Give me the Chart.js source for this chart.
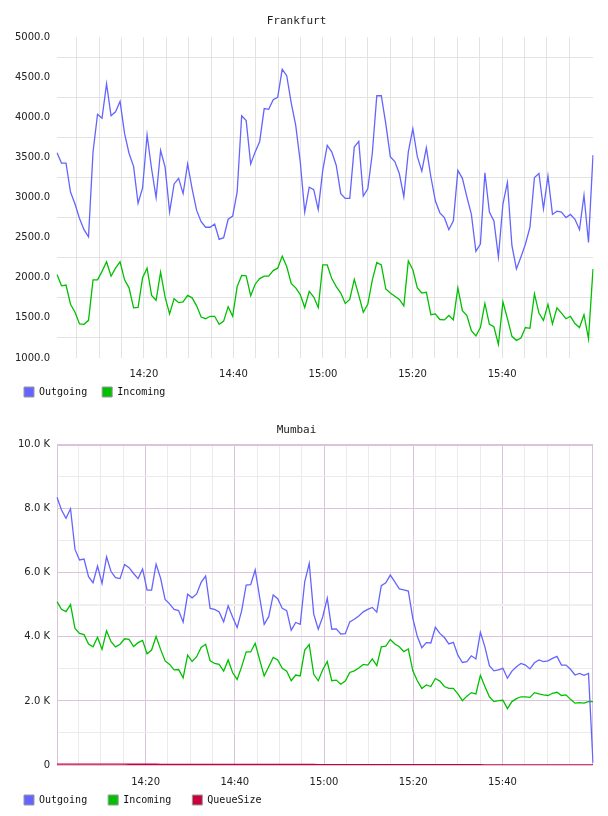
<!DOCTYPE html>
<html><head><meta charset="utf-8">
<script src="https://cdn.jsdelivr.net/npm/chart.js@4/dist/chart.umd.min.js"></script>
<style>
html,body{margin:0;padding:0;background:#fff;overflow:hidden;}
.wrap{position:absolute;left:0;width:608px;}
</style></head><body>
<div class="wrap" style="top:410px;height:420px"><canvas id="c2" width="608" height="420"></canvas></div>
<div class="wrap" style="top:0;height:417px"><canvas id="c1" width="608" height="417"></canvas></div>
<script>
// ---- data ----
const times = [
'14:00','14:01','14:02','14:03','14:04','14:05','14:06','14:07','14:08','14:09',
'14:10','14:11','14:12','14:13','14:14','14:15','14:16','14:17','14:18','14:19',
'14:20','14:21','14:22','14:23','14:24','14:25','14:26','14:27','14:28','14:29',
'14:30','14:31','14:32','14:33','14:34','14:35','14:36','14:37','14:38','14:39',
'14:40','14:41','14:42','14:43','14:44','14:45','14:46','14:47','14:48','14:49',
'14:50','14:51','14:52','14:53','14:54','14:55','14:56','14:57','14:58','14:59',
'15:00','15:01','15:02','15:03','15:04','15:05','15:06','15:07','15:08','15:09',
'15:10','15:11','15:12','15:13','15:14','15:15','15:16','15:17','15:18','15:19',
'15:20','15:21','15:22','15:23','15:24','15:25','15:26','15:27','15:28','15:29',
'15:30','15:31','15:32','15:33','15:34','15:35','15:36','15:37','15:38','15:39',
'15:40','15:41','15:42','15:43','15:44','15:45','15:46','15:47','15:48','15:49',
'15:50','15:51','15:52','15:53','15:54','15:55','15:56','15:57','15:58','15:59'];

const frankfurtOutgoing = [
3560,3430,3430,3070,2920,2740,2600,2510,3570,4040,
3990,4420,4020,4070,4200,3800,3550,3390,2930,3120,
3780,3360,3000,3590,3380,2820,3170,3240,3050,3420,
3110,2840,2700,2630,2630,2670,2480,2500,2730,2770,
3070,4020,3960,3420,3570,3700,4110,4100,4220,4250,
4600,4520,4180,3900,3450,2820,3130,3100,2850,3340,
3650,3570,3400,3050,2990,2990,3630,3700,3020,3110,
3550,4270,4270,3920,3510,3450,3300,3010,3570,3860,
3510,3330,3620,3260,2960,2810,2750,2600,2710,3340,
3240,3010,2790,2330,2420,3310,2820,2710,2260,2920,
3190,2400,2110,2260,2420,2630,3250,3300,2860,3270,
2790,2830,2820,2750,2790,2730,2600,3030,2440,3530];

const frankfurtIncoming = [
2040,1900,1910,1670,1570,1425,1420,1470,1975,1975,
2080,2200,2020,2120,2200,1975,1875,1625,1630,2000,
2120,1780,1720,2070,1760,1550,1740,1690,1700,1780,
1750,1650,1510,1490,1520,1520,1420,1460,1640,1520,
1890,2030,2025,1775,1920,1990,2020,2020,2090,2120,
2270,2140,1930,1875,1790,1630,1830,1760,1630,2160,
2160,1990,1890,1810,1680,1730,1980,1780,1570,1670,
1970,2190,2160,1860,1810,1770,1730,1650,2210,2100,
1875,1810,1820,1540,1550,1480,1475,1530,1475,1875,
1590,1530,1340,1275,1380,1680,1420,1390,1170,1700,
1490,1270,1220,1250,1380,1370,1800,1560,1470,1670,
1425,1625,1560,1490,1520,1430,1380,1540,1240,2110];

const mumbaiOutgoing = [
8360,7960,7700,8000,6730,6400,6430,5880,5690,6210,
5670,6500,6040,5850,5820,6260,6160,5980,5820,6120,
5460,5460,6270,5830,5170,5030,4860,4820,4460,5330,
5220,5340,5700,5900,4890,4860,4780,4470,4970,4610,
4290,4820,5620,5630,6090,5230,4390,4630,5310,5190,
4890,4820,4210,4450,4390,5720,6290,4710,4240,4630,
5210,4240,4250,4090,4100,4470,4550,4650,4780,4860,
4920,4770,5600,5690,5930,5720,5500,5470,5430,4580,
4010,3660,3820,3810,4300,4110,3980,3780,3830,3430,
3200,3230,3410,3310,4140,3690,3100,2940,2970,3020,
2710,2930,3070,3170,3120,3000,3190,3280,3230,3250,
3330,3390,3120,3120,2990,2810,2860,2800,2860,70];

const mumbaiIncoming = [
5100,4860,4790,5010,4260,4110,4070,3780,3690,3990,
3610,4190,3850,3690,3770,3940,3920,3700,3820,3890,
3470,3590,4010,3610,3250,3140,2970,2980,2720,3430,
3230,3380,3670,3770,3250,3170,3140,2930,3280,2880,
2670,3070,3530,3530,3800,3280,2780,3070,3360,3280,
3020,2930,2630,2810,2780,3590,3760,2830,2630,2970,
3230,2630,2650,2520,2620,2890,2940,3030,3140,3120,
3310,3100,3690,3710,3920,3780,3690,3540,3620,2940,
2630,2390,2500,2450,2700,2620,2450,2390,2390,2220,
2010,2150,2260,2220,2800,2450,2130,1980,2010,2020,
1760,1980,2070,2130,2130,2110,2260,2220,2190,2170,
2240,2270,2170,2190,2050,1930,1950,1930,1980,1980];

const mumbaiQueueSize = [
30,30,29,29,28,28,28,27,27,27,
26,26,26,25,25,25,24,24,24,24,
23,23,23,22,22,22,22,21,21,21,
21,20,20,20,20,19,19,19,19,18,
18,18,18,18,17,17,17,17,16,16,
16,16,16,15,15,15,15,15,14,14,
14,14,14,13,13,13,13,13,12,12,
12,12,12,11,11,11,11,11,10,10,
10,10,10,10,9,9,9,9,9,8,
8,8,8,8,8,7,7,7,7,7,
6,6,6,6,6,5,5,5,5,5,
4,4,4,4,3,3,3,3,2,0];

const timeTickLabels = ['14:20','14:40','15:00','15:20','15:40'];
const frankfurtYTickLabels = ['1000.0','1500.0','2000.0','2500.0','3000.0','3500.0','4000.0','4500.0','5000.0'];
const mumbaiYTickLabels = ['0','2.0 K','4.0 K','6.0 K','8.0 K','10.0 K'];

// ---- styling ----
const COL_OUT = '#6464ff', COL_IN = '#00c000', COL_Q = '#c8003c';
const GRID_GRAY = '#e3e3e3', GRID_PURPLE = '#dcc3dc', GRID_LIGHT = '#ebebeb';
Chart.defaults.font.family = 'DejaVu Sans';
Chart.defaults.font.size = 10;
Chart.defaults.color = '#222';

function fmtTime(v){
  const t = Math.round(v);
  const h = 14 + Math.floor(t/60), m = t%60;
  return h + ':' + (m<10?'0':'') + m;
}
function timeLabel(v){
  if (Math.abs(v - Math.round(v)) > 1e-6) return '';
  const s = fmtTime(v);
  return timeTickLabels.includes(s) ? s : '';
}

const legendShift = {
  id: 'legendShift',
  afterLayout(chart, args, opts){
    const lg = chart.legend;
    if (!lg) return;
    const p = lg.options.labels.padding;
    const h = lg.bottom - lg.top;
    lg.left = opts.x - p;
    lg.top = opts.y - p;
    lg.bottom = lg.top + h;
  }
};
const frame = {
  id: 'frame',
  beforeDatasetsDraw(chart, args, opts){
    if (!opts.color) return;
    const a = chart.chartArea, ctx = chart.ctx;
    ctx.save();
    ctx.strokeStyle = opts.color; ctx.lineWidth = 1;
    ctx.strokeRect(Math.round(a.left)+0.5, Math.round(a.top)+0.5, Math.round(a.right-a.left)-1, Math.round(a.bottom-a.top));
    ctx.restore();
  }
};

function ds(label, data, color){
  return {label, data, borderColor: color, backgroundColor: color, borderWidth: 1.3,
          pointRadius: 0, pointHoverRadius: 0, fill: false, tension: 0};
}
function legendLabels(chart){
  return Chart.defaults.plugins.legend.labels.generateLabels(chart)
    .map(l => Object.assign(l, {strokeStyle: '#999', lineWidth: 1}));
}

function makeChart(id, cfg){
  return new Chart(document.getElementById(id), {
    type: 'line',
    data: { labels: times, datasets: cfg.datasets },
    plugins: [legendShift, frame],
    options: {
      responsive: false, animation: false, devicePixelRatio: 1,
      layout: { padding: { left: 0, right: 15, top: 0, bottom: 0 } },
      plugins: {
        title: { display: true, text: cfg.title, color: '#222',
                 font: { family: 'DejaVu Sans Mono', size: 11, weight: 'normal' },
                 padding: cfg.titlePad },
        legend: { position: 'bottom', align: 'start',
                  labels: { boxWidth: 10, boxHeight: 10, padding: cfg.legendPad, color: '#111',
                            font: { family: 'DejaVu Sans Mono', size: 10 },
                            generateLabels: legendLabels } },
        legendShift: { x: 24, y: cfg.legendY },
        frame: { color: cfg.frame },
        tooltip: { enabled: false }
      },
      scales: {
        x: { type: 'category', display: false, offset: false },
        tx: { type: 'linear', axis: 'x', position: 'bottom', min: cfg.tMin, max: cfg.tMax,
              border: { display: false },
              grid: { drawTicks: false, lineWidth: 1,
                      color: c => (c.tick.value > 117) ? 'rgba(0,0,0,0)' : cfg.vGrid(c.tick.value) },
              ticks: { stepSize: 5, includeBounds: false, autoSkip: false, maxRotation: 0,
                       padding: cfg.xPad, color: '#222', callback: v => timeLabel(v) },
              afterFit: s => { s.height = 24; } },
        y: { type: 'linear', min: cfg.yMin, max: cfg.yMax,
             border: { display: false },
             grid: { drawTicks: false, color: c => cfg.hGrid(c.tick.value),
                     lineWidth: c => cfg.hWidth ? cfg.hWidth(c.tick.value) : 1 },
             ticks: { stepSize: cfg.yStep, autoSkip: false, padding: 7, color: '#222',
                      callback: v => cfg.yLabel(v) },
             afterFit: s => { s.width = 57; } }
      }
    }
  });
}

makeChart('c1', {
  title: 'Frankfurt',
  titlePad: { top: 15, bottom: 9 },
  legendPad: 15, legendY: 387, xPad: 10,
  tMin: 0.6, tMax: 120.3,
  yMin: 1000, yMax: 5000, yStep: 250,
  vGrid: v => GRID_GRAY,
  hGrid: v => (v % 500 === 0) ? 'rgba(0,0,0,0)' : GRID_GRAY,
  yLabel: v => { const s = v.toFixed(1); return frankfurtYTickLabels.includes(s) ? s : ''; },
  frame: null,
  datasets: [ ds('Outgoing', frankfurtOutgoing, COL_OUT), ds('Incoming', frankfurtIncoming, COL_IN) ]
});

makeChart('c2', {
  title: 'Mumbai',
  titlePad: { top: 14, bottom: 7.5 },
  legendPad: 21, legendY: 385, xPad: 11,
  tMin: 0.14, tMax: 120.3,
  yMin: 0, yMax: 10000, yStep: 1000,
  vGrid: v => (v % 20 === 0) ? GRID_PURPLE : GRID_LIGHT,
  hGrid: v => (v % 2000 === 0) ? GRID_PURPLE : (v === 5000 ? '#efefef' : GRID_LIGHT),
  hWidth: v => (v === 5000 ? 2 : 1),
  yLabel: v => { const s = v === 0 ? '0' : (v/1000).toFixed(1) + ' K'; return mumbaiYTickLabels.includes(s) ? s : ''; },
  frame: GRID_PURPLE,
  datasets: [ ds('Outgoing', mumbaiOutgoing, COL_OUT), ds('Incoming', mumbaiIncoming, COL_IN), ds('QueueSize', mumbaiQueueSize, COL_Q) ]
});
</script>
</body></html>
